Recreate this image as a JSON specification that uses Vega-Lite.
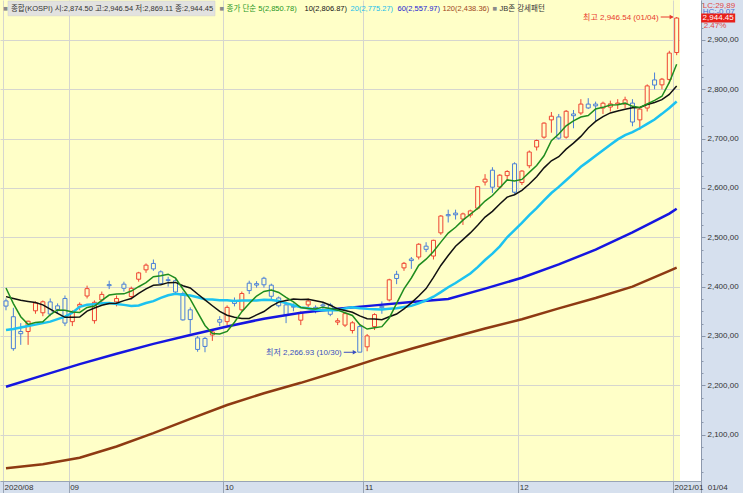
{
  "$schema": "https://vega.github.io/schema/vega-lite/v6.json",
  "width": 701,
  "height": 481,
  "autosize": {"type": "none"},
  "padding": {"left": 0, "top": 0, "right": 42, "bottom": 12},
  "background": "#D6E0EE",
  "config": {
    "view": {"fill": "#FFFFC8", "stroke": null},
    "font": "Liberation Sans, Noto Sans CJK KR, sans-serif"
  },
  "datasets": {
    "k": [
      {"i":0,"d":"08/19","o":2371,"h":2376,"l":2352,"c":2360.54,"m5":2397.2,"m10":2379.7,"m20":2312},
      {"i":1,"d":"08/20","o":2339,"h":2357,"l":2270,"c":2274.22,"m5":2365.6,"m10":2376.0,"m20":2314},
      {"i":2,"d":"08/21","o":2309,"h":2326,"l":2282,"c":2304.59,"m5":2339.0,"m10":2372.2,"m20":2317},
      {"i":3,"d":"08/24","o":2309,"h":2331,"l":2282,"c":2329.83,"m5":2323.5,"m10":2370.0,"m20":2320},
      {"i":4,"d":"08/25","o":2351,"h":2370,"l":2345,"c":2366.73,"m5":2327.2,"m10":2368.0,"m20":2323},
      {"i":5,"d":"08/26","o":2347,"h":2372,"l":2340,"c":2369.25,"m5":2328.9,"m10":2363.1,"m20":2326},
      {"i":6,"d":"08/27","o":2369,"h":2376,"l":2340,"c":2344.45,"m5":2343.0,"m10":2354.3,"m20":2329},
      {"i":7,"d":"08/28","o":2361,"h":2366,"l":2345,"c":2353.80,"m5":2352.8,"m10":2345.9,"m20":2334},
      {"i":8,"d":"08/31","o":2376,"h":2382,"l":2320,"c":2326.17,"m5":2352.1,"m10":2337.8,"m20":2339},
      {"i":9,"d":"09/01","o":2329,"h":2352,"l":2320,"c":2349.27,"m5":2348.6,"m10":2337.9,"m20":2347},
      {"i":10,"d":"09/02","o":2360,"h":2368,"l":2352,"c":2364.05,"m5":2347.6,"m10":2338.2,"m20":2359.0},
      {"i":11,"d":"09/03","o":2381,"h":2402,"l":2376,"c":2395.90,"m5":2357.8,"m10":2350.4,"m20":2363.2},
      {"i":12,"d":"09/04","o":2331,"h":2372,"l":2325,"c":2368.25,"m5":2360.7,"m10":2356.8,"m20":2364.5},
      {"i":13,"d":"09/07","o":2373,"h":2390,"l":2368,"c":2384.22,"m5":2372.3,"m10":2362.2,"m20":2366.1},
      {"i":14,"d":"09/08","o":2404,"h":2412,"l":2395,"c":2401.91,"m5":2382.9,"m10":2365.7,"m20":2366.9},
      {"i":15,"d":"09/09","o":2369,"h":2382,"l":2360,"c":2375.81,"m5":2385.2,"m10":2366.4,"m20":2364.7},
      {"i":16,"d":"09/10","o":2405,"h":2410,"l":2390,"c":2396.69,"m5":2385.4,"m10":2371.6,"m20":2363.0},
      {"i":17,"d":"09/11","o":2380,"h":2400,"l":2374,"c":2396.48,"m5":2391.0,"m10":2375.9,"m20":2360.9},
      {"i":18,"d":"09/14","o":2415,"h":2430,"l":2410,"c":2427.87,"m5":2399.8,"m10":2386.1,"m20":2361.9},
      {"i":19,"d":"09/15","o":2434,"h":2447,"l":2428,"c":2443.58,"m5":2408.1,"m10":2395.5,"m20":2366.7},
      {"i":20,"d":"09/16","o":2447,"h":2455,"l":2432,"c":2435.92,"m5":2420.1,"m10":2402.7,"m20":2370.5},
      {"i":21,"d":"09/17","o":2430,"h":2433,"l":2404,"c":2406.17,"m5":2422.0,"m10":2403.7,"m20":2377.1},
      {"i":22,"d":"09/18","o":2414,"h":2420,"l":2400,"c":2412.40,"m5":2425.2,"m10":2408.1,"m20":2382.4},
      {"i":23,"d":"09/21","o":2412,"h":2416,"l":2386,"c":2389.11,"m5":2417.4,"m10":2408.6,"m20":2385.4},
      {"i":24,"d":"09/22","o":2386,"h":2390,"l":2331,"c":2332.59,"m5":2395.2,"m10":2401.7,"m20":2383.7},
      {"i":25,"d":"09/23","o":2353,"h":2358,"l":2305,"c":2333.24,"m5":2374.7,"m10":2397.4,"m20":2381.9},
      {"i":26,"d":"09/24","o":2296,"h":2300,"l":2268,"c":2272.70,"m5":2348.0,"m10":2385.0,"m20":2378.3},
      {"i":27,"d":"09/25","o":2295,"h":2298,"l":2267,"c":2278.79,"m5":2321.3,"m10":2373.2,"m20":2374.6},
      {"i":28,"d":"09/28","o":2302,"h":2312,"l":2290,"c":2308.08,"m5":2305.1,"m10":2361.3,"m20":2373.7},
      {"i":29,"d":"09/29","o":2333,"h":2340,"l":2320,"c":2327.89,"m5":2304.1,"m10":2349.7,"m20":2372.6},
      {"i":30,"d":"10/05","o":2329,"h":2362,"l":2322,"c":2358.00,"m5":2309.1,"m10":2341.9,"m20":2372.3},
      {"i":31,"d":"10/06","o":2370,"h":2378,"l":2360,"c":2365.91,"m5":2327.7,"m10":2337.9,"m20":2370.8},
      {"i":32,"d":"10/07","o":2353,"h":2390,"l":2350,"c":2386.00,"m5":2349.2,"m10":2335.2,"m20":2371.7},
      {"i":33,"d":"10/08","o":2407,"h":2412,"l":2385,"c":2391.96,"m5":2366.0,"m10":2335.5,"m20":2372.1},
      {"i":34,"d":"10/12","o":2406,"h":2411,"l":2398,"c":2403.15,"m5":2381.0,"m10":2342.6,"m20":2372.1},
      {"i":35,"d":"10/13","o":2417,"h":2420,"l":2398,"c":2403.73,"m5":2390.2,"m10":2349.6,"m20":2373.5},
      {"i":36,"d":"10/14","o":2403,"h":2406,"l":2372,"c":2380.48,"m5":2393.1,"m10":2360.4,"m20":2372.7},
      {"i":37,"d":"10/15","o":2377,"h":2380,"l":2358,"c":2361.21,"m5":2388.1,"m10":2368.6,"m20":2370.9},
      {"i":38,"d":"10/16","o":2363,"h":2368,"l":2326,"c":2341.53,"m5":2378.0,"m10":2372.0,"m20":2366.6},
      {"i":39,"d":"10/19","o":2360,"h":2366,"l":2350,"c":2358.41,"m5":2369.1,"m10":2375.0,"m20":2362.4},
      {"i":40,"d":"10/20","o":2332,"h":2350,"l":2322,"c":2346.74,"m5":2357.7,"m10":2373.9,"m20":2357.9},
      {"i":41,"d":"10/21","o":2363,"h":2376,"l":2356,"c":2370.86,"m5":2355.8,"m10":2374.4,"m20":2356.1},
      {"i":42,"d":"10/22","o":2358,"h":2362,"l":2346,"c":2355.08,"m5":2354.5,"m10":2371.3,"m20":2353.3},
      {"i":43,"d":"10/23","o":2363,"h":2368,"l":2352,"c":2360.81,"m5":2358.4,"m10":2368.2,"m20":2351.9},
      {"i":44,"d":"10/26","o":2363,"h":2367,"l":2340,"c":2343.91,"m5":2355.5,"m10":2362.3,"m20":2352.4},
      {"i":45,"d":"10/27","o":2328,"h":2336,"l":2322,"c":2330.84,"m5":2352.3,"m10":2355.0,"m20":2352.3},
      {"i":46,"d":"10/28","o":2322,"h":2346,"l":2318,"c":2345.26,"m5":2347.2,"m10":2351.5,"m20":2355.9},
      {"i":47,"d":"10/29","o":2311,"h":2330,"l":2305,"c":2326.67,"m5":2341.5,"m10":2348.0,"m20":2358.3},
      {"i":48,"d":"10/30","o":2319,"h":2322,"l":2266.93,"c":2267.15,"m5":2322.8,"m10":2340.6,"m20":2356.3},
      {"i":49,"d":"11/02","o":2278,"h":2304,"l":2269,"c":2300.16,"m5":2314.0,"m10":2334.8,"m20":2354.9},
      {"i":50,"d":"11/03","o":2319,"h":2346,"l":2312,"c":2343.31,"m5":2316.5,"m10":2334.4,"m20":2354.2},
      {"i":51,"d":"11/04","o":2360,"h":2370,"l":2345,"c":2357.32,"m5":2318.9,"m10":2333.1,"m20":2353.7},
      {"i":52,"d":"11/05","o":2373,"h":2416,"l":2370,"c":2413.79,"m5":2336.4,"m10":2338.9,"m20":2355.1},
      {"i":53,"d":"11/06","o":2425,"h":2432,"l":2405,"c":2416.50,"m5":2366.2,"m10":2344.5,"m20":2356.4},
      {"i":54,"d":"11/09","o":2438,"h":2450,"l":2432,"c":2447.20,"m5":2395.6,"m10":2354.8,"m20":2358.6},
      {"i":55,"d":"11/10","o":2456,"h":2460,"l":2436,"c":2452.83,"m5":2417.5,"m10":2367.0,"m20":2361.0},
      {"i":56,"d":"11/11","o":2460,"h":2488,"l":2455,"c":2485.87,"m5":2443.2,"m10":2381.1,"m20":2366.3},
      {"i":57,"d":"11/12","o":2482,"h":2490,"l":2470,"c":2475.62,"m5":2455.6,"m10":2396.0,"m20":2372.0},
      {"i":58,"d":"11/13","o":2462,"h":2495,"l":2455,"c":2493.87,"m5":2471.1,"m10":2418.6,"m20":2379.6},
      {"i":59,"d":"11/16","o":2509,"h":2545,"l":2505,"c":2543.03,"m5":2490.2,"m10":2442.9,"m20":2388.8},
      {"i":60,"d":"11/17","o":2546,"h":2556,"l":2530,"c":2543.66,"m5":2508.4,"m10":2463.0,"m20":2398.7},
      {"i":61,"d":"11/18","o":2549,"h":2556,"l":2536,"c":2545.64,"m5":2520.4,"m10":2481.8,"m20":2407.4},
      {"i":62,"d":"11/19","o":2537,"h":2550,"l":2525,"c":2547.42,"m5":2534.7,"m10":2495.2,"m20":2417.0},
      {"i":63,"d":"11/20","o":2545,"h":2556,"l":2540,"c":2553.50,"m5":2546.7,"m10":2508.9,"m20":2426.7},
      {"i":64,"d":"11/23","o":2559,"h":2604,"l":2556,"c":2602.59,"m5":2558.6,"m10":2524.4,"m20":2439.6},
      {"i":65,"d":"11/24","o":2612,"h":2628,"l":2605,"c":2617.76,"m5":2573.4,"m10":2540.9,"m20":2454.0},
      {"i":66,"d":"11/25","o":2636,"h":2642,"l":2590,"c":2601.54,"m5":2584.6,"m10":2552.5,"m20":2466.8},
      {"i":67,"d":"11/26","o":2602,"h":2628,"l":2598,"c":2625.91,"m5":2600.3,"m10":2567.5,"m20":2481.7},
      {"i":68,"d":"11/27","o":2625,"h":2636,"l":2615,"c":2633.45,"m5":2616.3,"m10":2581.5,"m20":2500.1},
      {"i":69,"d":"11/30","o":2649,"h":2652,"l":2588,"c":2591.34,"m5":2614.0,"m10":2586.3,"m20":2514.6},
      {"i":70,"d":"12/01","o":2611,"h":2636,"l":2606,"c":2634.25,"m5":2617.3,"m10":2595.3,"m20":2529.2},
      {"i":71,"d":"12/02","o":2645,"h":2676,"l":2640,"c":2672.85,"m5":2631.6,"m10":2608.1,"m20":2544.9},
      {"i":72,"d":"12/03","o":2683,"h":2698,"l":2676,"c":2696.22,"m5":2645.6,"m10":2622.9,"m20":2559.1},
      {"i":73,"d":"12/04","o":2703,"h":2733,"l":2700,"c":2731.45,"m5":2665.2,"m10":2640.7,"m20":2574.8},
      {"i":74,"d":"12/07","o":2738,"h":2754,"l":2712,"c":2745.44,"m5":2696.0,"m10":2655.0,"m20":2589.7},
      {"i":75,"d":"12/08","o":2744,"h":2750,"l":2698,"c":2700.93,"m5":2709.4,"m10":2663.3,"m20":2602.1},
      {"i":76,"d":"12/09","o":2703,"h":2758,"l":2700,"c":2755.47,"m5":2725.9,"m10":2678.7,"m20":2615.6},
      {"i":77,"d":"12/10","o":2750,"h":2758,"l":2721,"c":2746.46,"m5":2736.0,"m10":2690.8,"m20":2629.1},
      {"i":78,"d":"12/11","o":2752,"h":2780,"l":2748,"c":2770.06,"m5":2743.7,"m10":2704.5,"m20":2643.0},
      {"i":79,"d":"12/14","o":2770,"h":2782,"l":2760,"c":2762.20,"m5":2747.0,"m10":2721.5,"m20":2653.9},
      {"i":80,"d":"12/15","o":2770,"h":2775,"l":2735,"c":2766.47,"m5":2760.1,"m10":2734.8,"m20":2665.1},
      {"i":81,"d":"12/16","o":2762,"h":2775,"l":2750,"c":2771.79,"m5":2763.4,"m10":2744.7,"m20":2676.4},
      {"i":82,"d":"12/17","o":2764,"h":2777,"l":2755,"c":2770.43,"m5":2768.2,"m10":2752.1,"m20":2687.5},
      {"i":83,"d":"12/18","o":2770,"h":2780,"l":2760,"c":2772.18,"m5":2768.6,"m10":2756.1,"m20":2698.4},
      {"i":84,"d":"12/21","o":2770,"h":2785,"l":2762,"c":2778.65,"m5":2771.9,"m10":2759.5,"m20":2707.2},
      {"i":85,"d":"12/22","o":2772,"h":2780,"l":2725,"c":2733.68,"m5":2765.4,"m10":2762.7,"m20":2713.0},
      {"i":86,"d":"12/23","o":2738,"h":2762,"l":2718,"c":2759.82,"m5":2763.0,"m10":2763.2,"m20":2721.0},
      {"i":87,"d":"12/24","o":2762,"h":2810,"l":2755,"c":2806.86,"m5":2770.2,"m10":2769.2,"m20":2730.0},
      {"i":88,"d":"12/28","o":2819,"h":2834,"l":2800,"c":2808.60,"m5":2777.5,"m10":2773.1,"m20":2738.8},
      {"i":89,"d":"12/29","o":2809,"h":2823,"l":2800,"c":2820.51,"m5":2785.9,"m10":2778.9,"m20":2750.2},
      {"i":90,"d":"12/30","o":2820,"h":2878,"l":2812,"c":2873.47,"m5":2813.9,"m10":2789.6,"m20":2762.2},
      {"i":91,"d":"01/04","o":2874.50,"h":2946.54,"l":2869.11,"c":2944.45,"m5":2850.78,"m10":2806.87,"m20":2775.27}
    ],
    "ma": [
      {"i":0,"m60":2197,"m120":2032},
      {"i":5,"m60":2220,"m120":2040},
      {"i":10,"m60":2243,"m120":2053},
      {"i":15,"m60":2264,"m120":2076},
      {"i":20,"m60":2284,"m120":2103},
      {"i":25,"m60":2302,"m120":2132},
      {"i":30,"m60":2319,"m120":2160},
      {"i":35,"m60":2335,"m120":2184},
      {"i":40,"m60":2347,"m120":2205},
      {"i":45,"m60":2355,"m120":2228},
      {"i":50,"m60":2362,"m120":2252},
      {"i":55,"m60":2369,"m120":2274},
      {"i":60,"m60":2375,"m120":2295},
      {"i":65,"m60":2396,"m120":2315},
      {"i":70,"m60":2418,"m120":2334},
      {"i":75,"m60":2445,"m120":2356},
      {"i":80,"m60":2475,"m120":2377},
      {"i":85,"m60":2510,"m120":2400},
      {"i":90,"m60":2548,"m120":2432},
      {"i":91,"m60":2557.97,"m120":2438.36}
    ],
    "ext": [
      {"k":"최고","i":91,"v":2946.54,"t":"최고 2,946.54 (01/04)"},
      {"k":"최저","i":48,"v":2266.93,"t":"최저 2,266.93 (10/30)"}
    ],
    "pane": [
      {"i":91,"c":2944.45,"lc":"LC:29,89","hc":"HC:-0,07","p":"2,944.45","pct":"2.47%","d":"01/04"}
    ]
  },
  "resolve": {"axis": {"x": "independent", "y": "independent"}},
  "layer": [
    {
      "data": {"name": "k"},
      "mark": {"type": "rule", "strokeWidth": 1},
      "encoding": {
        "x": {
          "field": "i", "type": "quantitative",
          "scale": {"domain": [-0.814, 94.3], "nice": false, "zero": false, "padding": 0},
          "axis": {
            "orient": "bottom",
            "values": [-0.4, 8.5, 29.5, 48.5, 69.5, 90.5, 94.3],
            "labelExpr": "datum.value < 0 ? '2020/08' : datum.value < 9 ? '09' : datum.value < 30 ? '10' : datum.value < 49 ? '11' : datum.value < 70 ? '12' : datum.value < 91 ? '2021/01' : ''",
            "grid": true, "gridColor": "#D6D6CF", "gridWidth": 1,
            "ticks": true, "tickSize": 12, "tickColor": "#98A4B6",
            "domain": true, "domainColor": "#98A4B6",
            "labelAlign": "left", "labelBaseline": "top", "labelPadding": -10, "labelOffset": 1,
            "labelFontSize": 8, "labelColor": "#333333",
            "labelFlush": false, "labelOverlap": false, "labelBound": false,
            "title": null
          }
        },
        "y": {
          "field": "l", "type": "quantitative",
          "scale": {"domain": [2006, 2981], "nice": false, "zero": false, "padding": 0},
          "axis": {
            "orient": "right",
            "values": [2100, 2200, 2300, 2400, 2500, 2600, 2700, 2800, 2900],
            "labelExpr": "replace(format(datum.value, ',.2f'), '.', ',')",
            "grid": true, "gridColor": "#D6D6CF", "gridWidth": 1,
            "tickSize": 4, "tickColor": "#8C98AC",
            "domain": true, "domainColor": "#8C98AC",
            "labelPadding": 2, "labelFontSize": 8, "labelColor": "#333333",
            "labelOverlap": false, "labelFlush": false, "title": null
          }
        },
        "y2": {"field": "h"},
        "color": {"condition": {"test": "datum.c >= datum.o", "value": "#EE4433"}, "value": "#4A7FD8"}
      }
    },
    {
      "data": {"values": [{}]},
      "mark": {"type": "rect", "fill": "#FFFFFF"},
      "encoding": {
        "x": {"datum": 91.45, "type": "quantitative", "axis": null},
        "x2": {"datum": 94.3},
        "y": {"datum": 2006, "type": "quantitative", "axis": null},
        "y2": {"datum": 2981}
      }
    },
    {
      "data": {"values": [{}]},
      "mark": {"type": "rect", "fill": "#E2E2E0", "stroke": "#CFCFCF", "strokeWidth": 0.5},
      "encoding": {
        "x": {"datum": 0.27, "type": "quantitative", "axis": null},
        "x2": {"datum": 28.36},
        "y": {"datum": 2949, "type": "quantitative", "axis": null},
        "y2": {"datum": 2979}
      }
    },
    {
      "data": {"name": "k"},
      "mark": {"type": "bar", "size": 4, "fill": "#FFFFC8", "strokeWidth": 1},
      "encoding": {
        "x": {"field": "i", "type": "quantitative", "axis": null},
        "y": {
          "field": "o", "type": "quantitative",
          "axis": {
            "orient": "right",
            "values": [2025, 2050, 2075, 2125, 2150, 2175, 2225, 2250, 2275, 2325, 2350, 2375, 2425, 2450, 2475, 2525, 2550, 2575, 2625, 2650, 2675, 2725, 2750, 2775, 2825, 2850, 2875, 2925, 2950, 2975],
            "labels": false, "grid": false, "domain": false,
            "tickSize": 2, "tickColor": "#8C98AC",
            "title": null
          }
        },
        "y2": {"field": "c"},
        "stroke": {"condition": {"test": "datum.c >= datum.o", "value": "#EE4433"}, "value": "#4A7FD8"}
      }
    },
    {
      "data": {"name": "ma"},
      "mark": {"type": "line", "color": "#8E3A12", "strokeWidth": 2.5},
      "encoding": {
        "x": {"field": "i", "type": "quantitative", "axis": null},
        "y": {"field": "m120", "type": "quantitative", "axis": null}
      }
    },
    {
      "data": {"name": "ma"},
      "mark": {"type": "line", "color": "#1616E0", "strokeWidth": 2.5},
      "encoding": {
        "x": {"field": "i", "type": "quantitative", "axis": null},
        "y": {"field": "m60", "type": "quantitative", "axis": null}
      }
    },
    {
      "data": {"name": "k"},
      "mark": {"type": "line", "color": "#1CC2F0", "strokeWidth": 2.5},
      "encoding": {
        "x": {"field": "i", "type": "quantitative", "axis": null},
        "y": {"field": "m20", "type": "quantitative", "axis": null}
      }
    },
    {
      "data": {"name": "k"},
      "mark": {"type": "line", "color": "#111111", "strokeWidth": 1.5},
      "encoding": {
        "x": {"field": "i", "type": "quantitative", "axis": null},
        "y": {"field": "m10", "type": "quantitative", "axis": null}
      }
    },
    {
      "data": {"name": "k"},
      "mark": {"type": "line", "color": "#1E8C1E", "strokeWidth": 1.5},
      "encoding": {
        "x": {
          "field": "i", "type": "quantitative",
          "axis": {
            "orient": "top",
            "values": [-0.45, 0.6, 28.9, 29.85, 40.43, 46.68, 53.05, 59.16, 65.94, 66.89],
            "labelExpr": "datum.value < 0 ? '■' : datum.value < 1 ? '종합(KOSPI) 시:2,874.50 고:2,946.54 저:2,869.11 종:2,944.45' : datum.value < 29.5 ? '■' : datum.value < 30 ? '종가 단순 5(2,850.78)' : datum.value < 41 ? '10(2,806.87)' : datum.value < 47 ? '20(2,775.27)' : datum.value < 54 ? '60(2,557.97)' : datum.value < 60 ? '120(2,438.36)' : datum.value < 66.5 ? '■' : 'JB존 강세패턴'",
            "ticks": false, "tickSize": 0, "domain": false, "grid": false,
            "labelAlign": "left", "labelBaseline": "middle", "labelPadding": -8,
            "labelFontSize": 7.5, "labelLimit": 400,
            "labelFlush": false, "labelOverlap": false, "labelBound": false,
            "labelColor": {
              "condition": [
                {"test": "datum.value < 0 || (datum.value > 28 && datum.value < 29.5) || (datum.value > 65 && datum.value < 66.5)", "value": "#8A8A8A"},
                {"test": "datum.value > 29.5 && datum.value < 30", "value": "#1E961E"},
                {"test": "datum.value > 40 && datum.value < 41", "value": "#111111"},
                {"test": "datum.value > 46 && datum.value < 47", "value": "#1ABEEB"},
                {"test": "datum.value > 53 && datum.value < 54", "value": "#2323D2"},
                {"test": "datum.value > 59 && datum.value < 60", "value": "#A0451A"}
              ],
              "value": "#333333"
            },
            "zindex": 2,
            "title": null
          }
        },
        "y": {"field": "m5", "type": "quantitative", "axis": null}
      }
    },
    {
      "data": {"name": "ext"},
      "mark": {"type": "rule", "strokeWidth": 1, "xOffset": -16, "x2Offset": -4},
      "encoding": {
        "x": {"field": "i", "type": "quantitative", "axis": null},
        "x2": {"field": "i"},
        "y": {"field": "v", "type": "quantitative", "axis": null},
        "color": {"condition": {"test": "datum.k == '최고'", "value": "#E83A2E"}, "value": "#3A4FC0"}
      }
    },
    {
      "data": {"name": "ext"},
      "mark": {"type": "point", "shape": "triangle-right", "filled": true, "size": 22, "xOffset": -5, "opacity": 1},
      "encoding": {
        "x": {"field": "i", "type": "quantitative", "axis": null},
        "y": {"field": "v", "type": "quantitative", "axis": null},
        "color": {"condition": {"test": "datum.k == '최고'", "value": "#E83A2E"}, "value": "#3A4FC0"}
      }
    },
    {
      "data": {"name": "ext"},
      "mark": {"type": "text", "align": "right", "baseline": "middle", "dx": -18, "dy": 1, "fontSize": 8},
      "encoding": {
        "x": {"field": "i", "type": "quantitative", "axis": null},
        "y": {"field": "v", "type": "quantitative", "axis": null},
        "text": {"field": "t"},
        "color": {"condition": {"test": "datum.k == '최고'", "value": "#E83A2E"}, "value": "#3A4FC0"}
      }
    },
    {
      "data": {"name": "pane"},
      "mark": {"type": "text", "align": "left", "baseline": "middle", "dx": 26, "dy": -6, "fontSize": 8, "color": "#4A6FD0"},
      "encoding": {
        "x": {"field": "i", "type": "quantitative", "axis": null},
        "y": {"field": "c", "type": "quantitative", "axis": null},
        "text": {"field": "hc"}
      }
    },
    {
      "data": {"name": "pane"},
      "mark": {"type": "text", "align": "left", "baseline": "middle", "dx": 26, "dy": -12, "fontSize": 8, "color": "#E04848"},
      "encoding": {
        "x": {"field": "i", "type": "quantitative", "axis": null},
        "y": {"field": "c", "type": "quantitative", "axis": null},
        "text": {"field": "lc"}
      }
    },
    {
      "data": {"name": "pane"},
      "mark": {"type": "point", "shape": "M-1,-0.265H1V0.265H-1Z", "filled": true, "size": 1156, "xOffset": 41.5, "color": "#E8201A", "opacity": 1},
      "encoding": {
        "x": {"field": "i", "type": "quantitative", "axis": null},
        "y": {"field": "c", "type": "quantitative", "axis": null}
      }
    },
    {
      "data": {"name": "pane"},
      "mark": {"type": "text", "align": "center", "baseline": "middle", "dx": 41.5, "fontSize": 8, "color": "#FFFFFF"},
      "encoding": {
        "x": {"field": "i", "type": "quantitative", "axis": null},
        "y": {"field": "c", "type": "quantitative", "axis": null},
        "text": {"field": "p"}
      }
    },
    {
      "data": {"name": "pane"},
      "mark": {"type": "text", "align": "left", "baseline": "middle", "dx": 27, "dy": 8, "fontSize": 8, "color": "#E04848"},
      "encoding": {
        "x": {"field": "i", "type": "quantitative", "axis": null},
        "y": {"field": "c", "type": "quantitative", "axis": null},
        "text": {"field": "pct"}
      }
    },
    {
      "data": {"name": "pane"},
      "mark": {"type": "text", "align": "left", "baseline": "middle", "dx": 31, "dy": 7, "fontSize": 8, "color": "#333333"},
      "encoding": {
        "x": {"field": "i", "type": "quantitative", "axis": null},
        "y": {"datum": 2006, "type": "quantitative", "axis": null},
        "text": {"field": "d"}
      }
    }
  ]
}
